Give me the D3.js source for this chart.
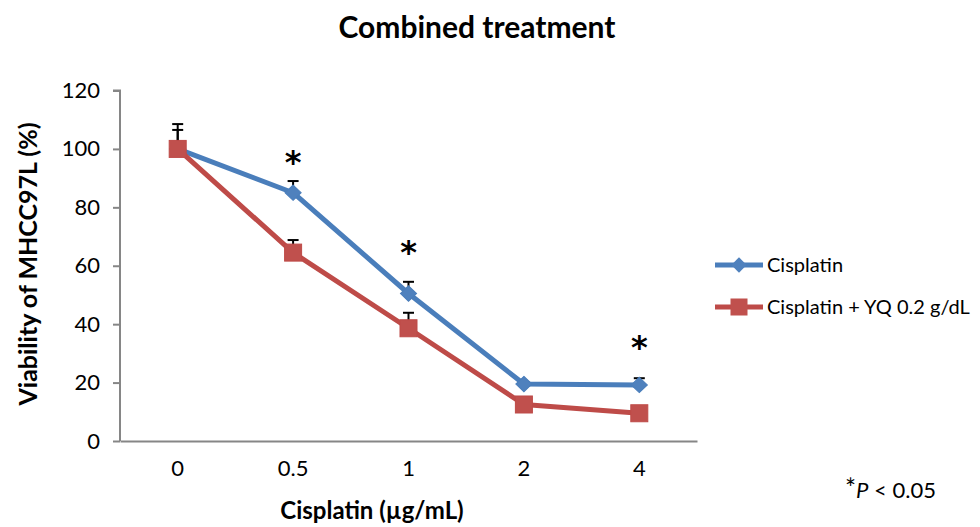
<!DOCTYPE html>
<html>
<head>
<meta charset="utf-8">
<script src="https://cdn.jsdelivr.net/npm/d3@7"></script>
<style>
  body { margin: 0; background: #fff; }
  text { font-family: Lato, "Open Sans", sans-serif; fill: #000; }
</style>
</head>
<body>
<div id="chart"></div>
<script>
// Data
const categories = ["0", "0.5", "1", "2", "4"];
const cisplatin = [100, 85, 50.5, 19.5, 19.2];
const cisplatinErr = [8.5, 4, 4, 0.6, 2.3];
const combined = [100, 64.5, 38.6, 12.5, 9.5];
const combinedErr = [6.5, 4.3, 5.3, 0.5, 0.5];
const yTicks = [0, 20, 40, 60, 80, 100, 120];
const sigCategories = ["0.5", "1", "4"];
const sigLevels = [97, 66, 33.5];

const BLUE_LINE = "#4a7ebb";
const BLUE_FILL = "#4f81bd";
const RED_LINE = "#be4b48";
const RED_FILL = "#c0504d";
const AXIS_COLOR = "#868686";

const W = 980, H = 527;
const margin = {left: 120, top: 90.5, right: 283, bottom: 86};
const plotRight = W - margin.right;
const plotBottom = H - margin.bottom;

const svg = d3.select("#chart")
    .append("svg")
    .attr("width", W)
    .attr("height", H);

let x = d3.scaleBand()
    .domain(categories)
    .range([margin.left, plotRight])
    .padding(0);

let y = d3.scaleLinear()
    .domain([0, 120])
    .range([plotBottom, margin.top]);

const cx = function(c) { return x(c) + x.bandwidth() / 2; };

// y axis
let yAxis = svg.append("g")
    .attr("transform", "translate(" + margin.left + ",0)")
    .call(d3.axisLeft(y).tickValues(yTicks).tickSize(7).tickPadding(13));
yAxis.select(".domain").attr("stroke", AXIS_COLOR).attr("stroke-width", 2)
    .attr("d", "M-7," + y(120) + "H0V" + y(0));
yAxis.selectAll(".tick line").attr("stroke", AXIS_COLOR).attr("stroke-width", 2);
yAxis.selectAll(".tick text")
    .style("font-size", "22px")
    .style("font-family", "Lato, 'Open Sans', sans-serif")
    .attr("fill", "#000");

// x axis
let xAxis = svg.append("g")
    .attr("transform", "translate(0," + plotBottom + ")")
    .call(d3.axisBottom(x).tickSize(0).tickPadding(19));
xAxis.select(".domain").attr("stroke", AXIS_COLOR).attr("stroke-width", 2);
xAxis.selectAll(".tick text")
    .style("font-size", "22px")
    .style("font-family", "Lato, 'Open Sans', sans-serif")
    .attr("fill", "#000");

// error bars (upward only)
function errorBars(values, errs) {
    const g = svg.append("g");
    categories.forEach(function(c, i) {
        const top = y(values[i] + errs[i]);
        g.append("line")
            .attr("x1", cx(c)).attr("x2", cx(c))
            .attr("y1", y(values[i])).attr("y2", top)
            .attr("stroke", "#000").attr("stroke-width", 2);
        g.append("line")
            .attr("x1", cx(c) - 5.5).attr("x2", cx(c) + 5.5)
            .attr("y1", top).attr("y2", top)
            .attr("stroke", "#000").attr("stroke-width", 2);
    });
}
errorBars(cisplatin, cisplatinErr);
errorBars(combined, combinedErr);

const line = d3.line()
    .x(function(d, i) { return cx(categories[i]); })
    .y(function(d) { return y(d); });

// Cisplatin series
svg.append("path")
    .datum(cisplatin)
    .attr("d", line)
    .attr("fill", "none")
    .attr("stroke", BLUE_LINE)
    .attr("stroke-width", 5)
    .attr("stroke-linejoin", "round");

const diamond = d3.symbol().type(d3.symbolDiamond2).size(150);
svg.append("g").selectAll("path")
    .data(cisplatin)
    .enter()
    .append("path")
    .attr("d", diamond)
    .attr("transform", function(d, i) {
        return "translate(" + cx(categories[i]) + "," + y(d) + ") scale(1.05,1)";
    })
    .attr("fill", BLUE_FILL)
    .attr("stroke", BLUE_LINE)
    .attr("stroke-width", 1);

// Combined series
svg.append("path")
    .datum(combined)
    .attr("d", line)
    .attr("fill", "none")
    .attr("stroke", RED_LINE)
    .attr("stroke-width", 5)
    .attr("stroke-linejoin", "round");

svg.append("g").selectAll("rect")
    .data(combined)
    .enter()
    .append("rect")
    .attr("x", function(d, i) { return cx(categories[i]) - 8.5; })
    .attr("y", function(d) { return y(d) - 8.5; })
    .attr("width", 17)
    .attr("height", 17)
    .attr("fill", RED_FILL)
    .attr("stroke", RED_LINE)
    .attr("stroke-width", 1);

// significance stars
svg.append("g").selectAll("text")
    .data(sigCategories)
    .enter()
    .append("text")
    .attr("x", function(c) { return cx(c); })
    .attr("y", function(c, i) { return y(sigLevels[i]) + 15; })
    .attr("text-anchor", "middle")
    .style("font-family", "'DejaVu Sans', sans-serif")
    .style("font-weight", "bold")
    .style("font-size", "32px")
    .text("*");

// title
svg.append("text")
    .attr("x", 477)
    .attr("y", 38)
    .attr("text-anchor", "middle")
    .style("font-size", "30px")
    .style("font-weight", "bold")
    .text("Combined treatment");

// axis titles
svg.append("text")
    .attr("transform", "translate(37,264) rotate(-90)")
    .attr("text-anchor", "middle")
    .style("font-size", "25px")
    .style("font-weight", "bold")
    .text("Viability of MHCC97L (%)");

svg.append("text")
    .attr("x", 372)
    .attr("y", 519)
    .attr("text-anchor", "middle")
    .style("font-size", "24px")
    .style("font-weight", "bold")
    .text("Cisplatin (\u00b5g/mL)");

// legend
const legend = svg.append("g");
const legendItems = [
    {label: "Cisplatin", line: BLUE_LINE, fill: BLUE_FILL, shape: "diamond", y: 265},
    {label: "Cisplatin + YQ 0.2 g/dL", line: RED_LINE, fill: RED_FILL, shape: "square", y: 307}
];
legendItems.forEach(function(d) {
    legend.append("line")
        .attr("x1", 715).attr("x2", 763)
        .attr("y1", d.y).attr("y2", d.y)
        .attr("stroke", d.line).attr("stroke-width", 5);
    if (d.shape === "diamond") {
        legend.append("path")
            .attr("d", diamond)
            .attr("transform", "translate(739," + d.y + ")")
            .attr("fill", d.fill);
    } else {
        legend.append("rect")
            .attr("x", 739 - 8.5).attr("y", d.y - 8.5)
            .attr("width", 17).attr("height", 17)
            .attr("fill", d.fill);
    }
    legend.append("text")
        .attr("x", 767)
        .attr("y", d.y + 7)
        .style("font-size", "20px")
        .text(d.label);
});

// p-value note
const note = svg.append("text")
    .attr("x", 845)
    .attr("y", 498)
    .style("font-size", "22px");
note.append("tspan").style("font-size", "26px").text("*");
note.append("tspan").style("font-style", "italic").text("P");
note.append("tspan").text(" < 0.05");
</script>
</body>
</html>
